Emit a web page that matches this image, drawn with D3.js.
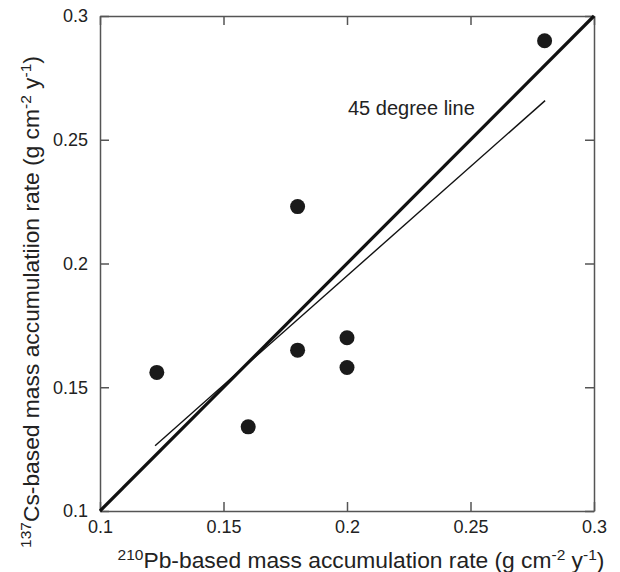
<!DOCTYPE html>
<html>
  <head>
    <meta charset="utf-8">
    <style>
      body { margin: 0; background: #fff; }
      text { font-family: "Liberation Sans", Arial, sans-serif; fill: #222; }
      .axis path, .axis line { stroke: #555; stroke-width: 1.5; }
    </style>
    <script src="https://cdn.jsdelivr.net/npm/d3@7"></script>
  </head>
  <body>
    <svg class="chart"></svg>
    <script>
      // measured points
      const pbRate = [0.123, 0.160, 0.180, 0.180, 0.200, 0.200, 0.280];
      const csRate = [0.156, 0.134, 0.223, 0.165, 0.170, 0.158, 0.290];
      // regression line end points
      const fitX = [0.1223, 0.2802];
      const fitY = [0.1264, 0.2658];
      // 45 degree line
      const oneToOne = [0.1, 0.3];
      const ticks = [0.1, 0.15, 0.2, 0.25, 0.3];

      const margin = {top: 16, right: 26, bottom: 61, left: 100},
          width = 620 - margin.left - margin.right,
          height = 572 - margin.top - margin.bottom;

      const svg = d3.select(".chart")
        .attr("width", 620)
        .attr("height", 572);

      const g = svg.append("g")
        .attr("transform", `translate(${margin.left}, ${margin.top})`);

      const x = d3.scaleLinear().domain([0.1, 0.3]).range([0, width]);
      const y = d3.scaleLinear().domain([0.1, 0.3]).range([height, 0]);

      const fmt = d => String(+d.toFixed(2));

      // axes, ticks inward
      g.append("g").attr("class", "axis")
        .attr("transform", `translate(0, ${height})`)
        .call(d3.axisBottom(x).tickValues(ticks).tickFormat(fmt).tickSize(-9).tickPadding(9).tickSizeOuter(0))
        .call(a => a.selectAll("text").attr("font-size", 18).attr("fill", "#222"));
      g.append("g").attr("class", "axis")
        .call(d3.axisLeft(y).tickValues(ticks).tickFormat(fmt).tickSize(-9).tickPadding(12).tickSizeOuter(0))
        .call(a => a.selectAll("text").attr("font-size", 18).attr("fill", "#222"));
      g.append("g").attr("class", "axis")
        .call(d3.axisTop(x).tickValues(ticks).tickFormat("").tickSize(-9).tickSizeOuter(0));
      g.append("g").attr("class", "axis")
        .attr("transform", `translate(${width}, 0)`)
        .call(d3.axisRight(y).tickValues(ticks).tickFormat("").tickSize(-9).tickSizeOuter(0));

      // 45 degree line
      g.append("line")
        .attr("x1", x(oneToOne[0])).attr("y1", y(oneToOne[0]))
        .attr("x2", x(oneToOne[1])).attr("y2", y(oneToOne[1]))
        .attr("stroke", "#111").attr("stroke-width", 3.2);

      // fitted line
      g.append("line")
        .attr("x1", x(fitX[0])).attr("y1", y(fitY[0]))
        .attr("x2", x(fitX[1])).attr("y2", y(fitY[1]))
        .attr("stroke", "#111").attr("stroke-width", 1.4);

      g.selectAll("circle").data(pbRate).enter().append("circle")
        .attr("cx", d => x(d))
        .attr("cy", (d, i) => y(csRate[i]))
        .attr("r", 7.5)
        .attr("fill", "#1a1a1a");

      g.append("text")
        .attr("x", 248).attr("y", 99)
        .attr("font-size", 20)
        .text("45 degree line");

      // x axis title
      const xt = svg.append("text")
        .attr("x", 361).attr("y", 568)
        .attr("text-anchor", "middle")
        .attr("font-size", 22.8);
      xt.append("tspan").attr("font-size", 15.5).attr("dy", -8).text("210");
      xt.append("tspan").attr("dy", 8).text("Pb-based mass accumulation rate (g cm");
      xt.append("tspan").attr("font-size", 15.5).attr("dy", -8).text("-2");
      xt.append("tspan").attr("dy", 8).text(" y");
      xt.append("tspan").attr("font-size", 15.5).attr("dy", -8).text("-1");
      xt.append("tspan").attr("dy", 8).text(")");

      // y axis title
      const yt = svg.append("text")
        .attr("transform", "translate(39, 302) rotate(-90)")
        .attr("text-anchor", "middle")
        .attr("font-size", 22.8);
      yt.append("tspan").attr("font-size", 15.5).attr("dy", -8).text("137");
      yt.append("tspan").attr("dy", 8).text("Cs-based mass accumulatiion rate (g cm");
      yt.append("tspan").attr("font-size", 15.5).attr("dy", -8).text("-2");
      yt.append("tspan").attr("dy", 8).text(" y");
      yt.append("tspan").attr("font-size", 15.5).attr("dy", -8).text("-1");
      yt.append("tspan").attr("dy", 8).text(")");
    </script>
  </body>
</html>
